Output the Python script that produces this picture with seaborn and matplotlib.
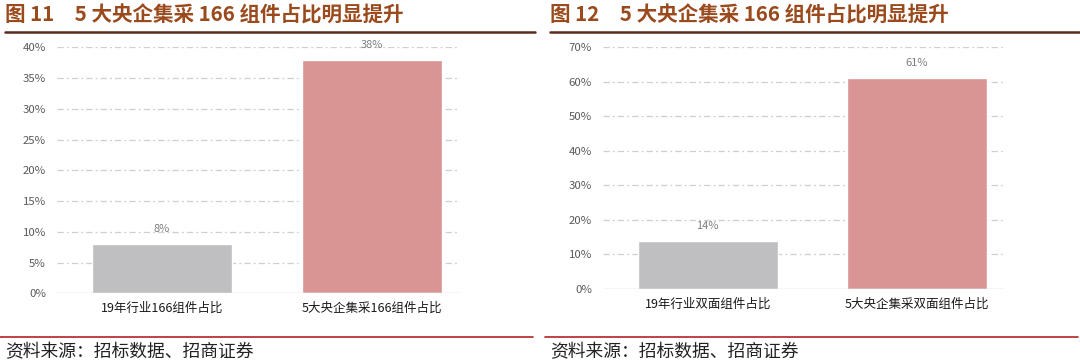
import pandas as pd
import seaborn as sns
import matplotlib.pyplot as plt
from matplotlib.ticker import PercentFormatter
from matplotlib.lines import Line2D

# data
left_titles = "图 11　5 大央企集采 166 组件占比明显提升"
right_titles = "图 12　5 大央企集采 166 组件占比明显提升"
left_cats = ["19年行业166组件占比", "5大央企集采166组件占比"]
left_vals = [8, 38]
right_cats = ["19年行业双面组件占比", "5大央企集采双面组件占比"]
right_vals = [14, 61]
source_text = "资料来源：招标数据、招商证券"

bar_colors = ["#BFBEC0", "#D99594"]

sns.set_theme(style="white")
plt.rcParams["font.family"] = ["Noto Sans CJK SC", "DejaVu Sans"]

fig = plt.figure(figsize=(10.8, 3.62), dpi=100)

panels = [
    # axes rect, cats, vals, ymax, ystep, title, x offset (px)
    ([57 / 1080, 1 - 293.3 / 362, 403 / 1080, 246 / 362], left_cats, left_vals, 40, 5, left_titles, 0),
    ([603 / 1080, 1 - 289 / 362, 402 / 1080, 242 / 362], right_cats, right_vals, 70, 10, right_titles, 545),
]

for rect, cats, vals, ymax, ystep, title, xoff in panels:
    ax = fig.add_axes(rect)
    df = pd.DataFrame({"cat": cats, "val": vals})
    sns.barplot(data=df, x="cat", y="val", hue="cat", palette=bar_colors,
                width=0.667, legend=False, ax=ax, saturation=1)
    ax.set_xlim(-0.5, 1.42)
    ax.set_ylim(0, ymax)
    ax.set_yticks(range(0, ymax + 1, ystep))
    ax.yaxis.set_major_formatter(PercentFormatter(decimals=0))
    ax.set_xlabel("")
    ax.set_ylabel("")
    for s in ax.spines.values():
        s.set_visible(False)
    ax.axhline(0, color="#D0D0D0", lw=1, zorder=3)
    for t in range(ystep, ymax + 1, ystep):
        ax.axhline(t, color="#CFCFCF", lw=0.9, ls=(0, (5, 2.5, 1.5, 2.5)), zorder=0)
    ax.tick_params(axis="y", labelsize=8.2, labelcolor="#595959", length=0, pad=8)
    ax.tick_params(axis="x", labelsize=9, labelcolor="#1A1A1A", length=0, pad=6)
    for i, v in enumerate(vals):
        ax.annotate(f"{v}%", (i, v), xytext=(0, 7), textcoords="offset points",
                    ha="center", va="bottom", fontsize=8, color="#7F7F7F")

    # header, rules and source
    fig.text((xoff + 5) / 1080, 1 - 15 / 362, title, fontsize=14.8, fontweight="bold",
             color="#9A4A1C", ha="left", va="center")
    fig.add_artist(Line2D([(xoff + 5) / 1080, (xoff + 535) / 1080], [1 - 32 / 362] * 2,
                          color="#5C2A1E", lw=1.8, transform=fig.transFigure))
    fig.add_artist(Line2D([(xoff + 0) / 1080, (xoff + 533) / 1080], [1 - 337 / 362] * 2,
                          color="#B22222", lw=1.2, transform=fig.transFigure))
    fig.text((xoff + 5) / 1080, 1 - 352 / 362, source_text, fontsize=12.8,
             color="#222222", ha="left", va="center")

fig.savefig("out.png", dpi=100)
